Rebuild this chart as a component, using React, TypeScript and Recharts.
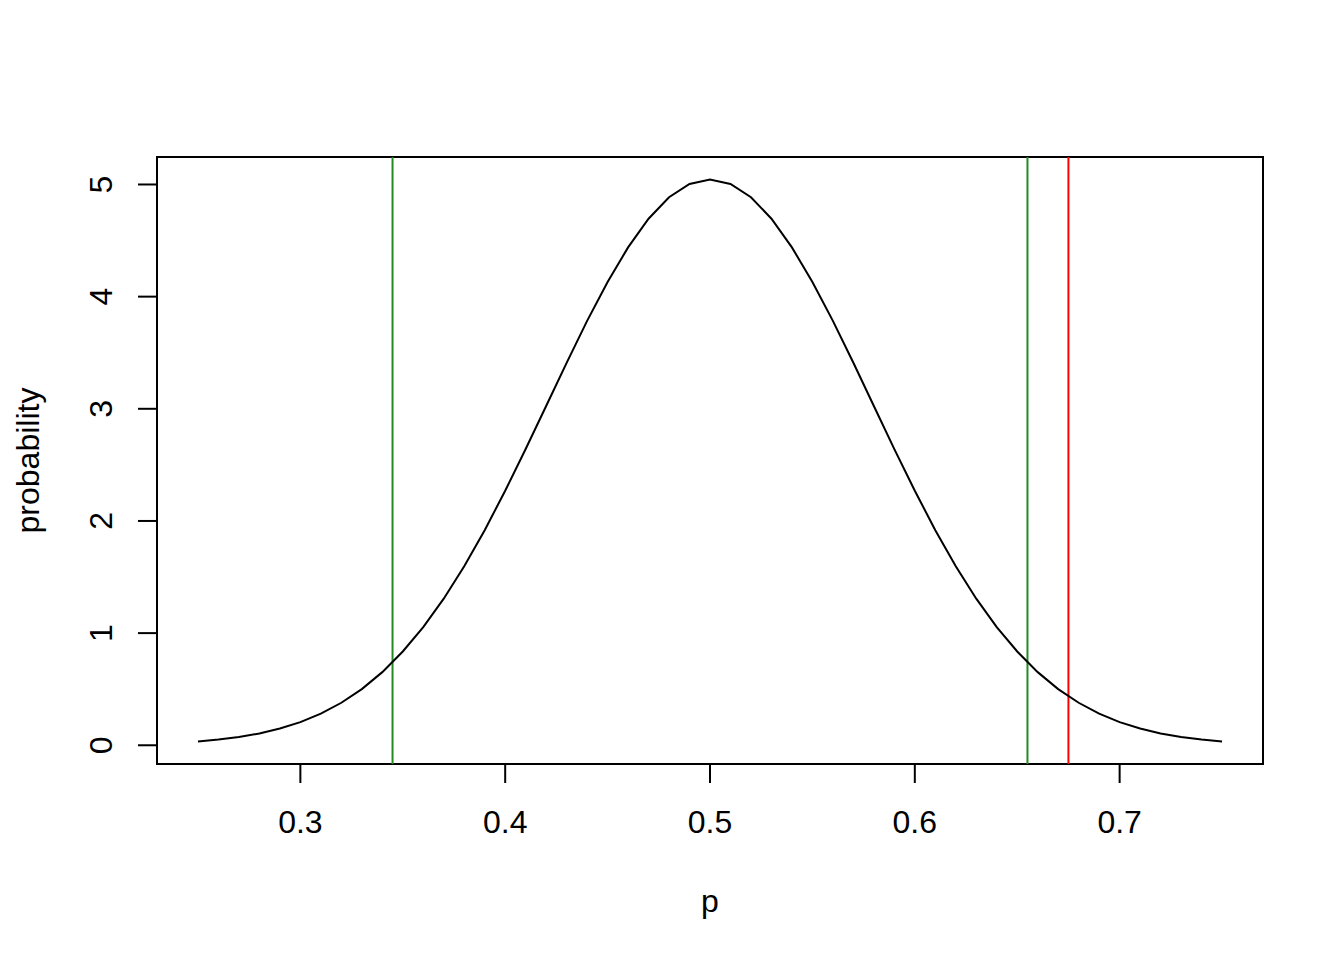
import {
  LineChart,
  Line,
  XAxis,
  YAxis,
  ReferenceLine,
  ReferenceArea,
} from 'recharts';

const P_VALUES = [
  0.25, 0.26, 0.27, 0.28, 0.29, 0.3, 0.31, 0.32, 0.33, 0.34, 0.35, 0.36, 0.37,
  0.38, 0.39, 0.4, 0.41, 0.42, 0.43, 0.44, 0.45, 0.46, 0.47, 0.48, 0.49, 0.5,
  0.51, 0.52, 0.53, 0.54, 0.55, 0.56, 0.57, 0.58, 0.59, 0.6, 0.61, 0.62, 0.63,
  0.64, 0.65, 0.66, 0.67, 0.68, 0.69, 0.7, 0.71, 0.72, 0.73, 0.74, 0.75,
];

const PROBABILITY = [
  0.034, 0.051, 0.074, 0.105, 0.149, 0.206, 0.282, 0.379, 0.501, 0.652, 0.836,
  1.054, 1.307, 1.596, 1.918, 2.269, 2.641, 3.025, 3.41, 3.784, 4.131, 4.439,
  4.695, 4.886, 5.005, 5.045, 5.005, 4.886, 4.695, 4.439, 4.131, 3.784, 3.41,
  3.025, 2.641, 2.269, 1.918, 1.596, 1.307, 1.054, 0.836, 0.652, 0.501, 0.379,
  0.282, 0.206, 0.149, 0.105, 0.074, 0.051, 0.034,
];

const X_TICKS = [0.3, 0.4, 0.5, 0.6, 0.7];
const Y_TICKS = [0, 1, 2, 3, 4, 5];
const X_DOMAIN = [0.23, 0.77];
const Y_DOMAIN = [-0.167, 5.245];

const CI_BOUNDS = [0.345, 0.655];
const OBSERVED = 0.675;

const FONT = '"Liberation Sans", Arial, sans-serif';

const data = P_VALUES.map((p, i) => ({ p, prob: PROBABILITY[i] }));

const YTick = ({ x, y, payload }: { x: number; y: number; payload: { value: number } }) => (
  <text
    x={x}
    y={y}
    transform={`rotate(-90, ${x}, ${y})`}
    textAnchor="middle"
    fontSize={32}
    fontFamily={FONT}
    fill="#000"
  >
    {payload.value}
  </text>
);

const XLabel = ({ viewBox }: { viewBox?: { x: number; y: number; width: number; height: number } }) => {
  if (!viewBox) return null;
  return (
    <text
      x={viewBox.x + viewBox.width / 2}
      y={viewBox.y + 148}
      textAnchor="middle"
      fontSize={32}
      fontFamily={FONT}
      fill="#000"
    >
      p
    </text>
  );
};

const YLabel = ({ viewBox }: { viewBox?: { x: number; y: number; width: number; height: number } }) => {
  if (!viewBox) return null;
  const cx = viewBox.x + 39;
  const cy = viewBox.y + viewBox.height / 2;
  return (
    <text
      x={cx}
      y={cy}
      transform={`rotate(-90, ${cx}, ${cy})`}
      textAnchor="middle"
      fontSize={32}
      fontFamily={FONT}
      fill="#000"
    >
      probability
    </text>
  );
};

export default function App() {
  return (
    <div style={{ position: 'absolute', left: 0, top: 0, background: '#fff' }}>
      <LineChart
        width={1344}
        height={960}
        data={data}
        margin={{ top: 157, right: 81, bottom: 0, left: 0 }}
      >
        <XAxis
          type="number"
          dataKey="p"
          domain={X_DOMAIN}
          ticks={X_TICKS}
          height={196}
          tickSize={19}
          tickMargin={27}
          axisLine={false}
          tickLine={{ stroke: '#000', strokeWidth: 2 }}
          tick={{ fontSize: 32, fontFamily: FONT, fill: '#000' }}
          label={<XLabel />}
          allowDataOverflow
        />
        <YAxis
          type="number"
          domain={Y_DOMAIN}
          ticks={Y_TICKS}
          width={157}
          tickSize={19}
          tickMargin={26}
          axisLine={false}
          tickLine={{ stroke: '#000', strokeWidth: 2 }}
          tick={YTick}
          label={<YLabel />}
          allowDataOverflow
        />
        <ReferenceArea
          x1={X_DOMAIN[0]}
          x2={X_DOMAIN[1]}
          y1={Y_DOMAIN[0]}
          y2={Y_DOMAIN[1]}
          fill="none"
          stroke="#000"
          strokeWidth={2}
          fillOpacity={0}
        />
        {CI_BOUNDS.map((b) => (
          <ReferenceLine key={b} x={b} stroke="#228B22" strokeWidth={2} />
        ))}
        <ReferenceLine x={OBSERVED} stroke="#FF0000" strokeWidth={2} />
        <Line
          type="linear"
          dataKey="prob"
          stroke="#000"
          strokeWidth={2}
          dot={false}
          isAnimationActive={false}
        />
      </LineChart>
    </div>
  );
}
